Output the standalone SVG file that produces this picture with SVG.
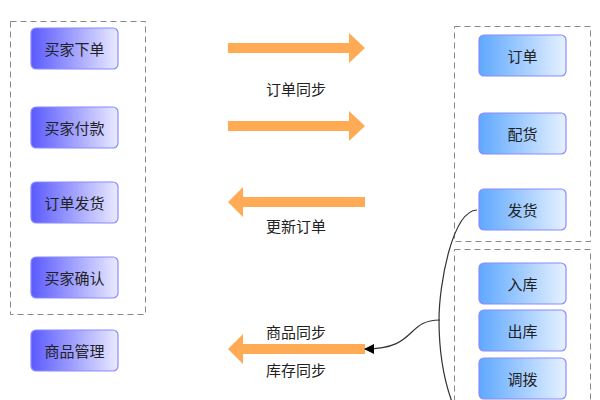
<svg xmlns="http://www.w3.org/2000/svg" width="600" height="400" viewBox="0 0 600 400">
<style>
.grp{fill:none;stroke:#888;stroke-width:1;stroke-dasharray:6,4}
.ln{fill:url(#gl);stroke:#8a8aff;stroke-width:1.2}
.rn{fill:url(#gr);stroke:#8a8aff;stroke-width:1.2}
.t{font-family:"Noto Sans CJK SC","Noto Sans",sans-serif;font-size:15px;fill:#222;text-anchor:middle;dominant-baseline:central}
.ar{fill:#ffaa55}
.cn{fill:none;stroke:#333;stroke-width:1.2}
</style>
<defs>
<linearGradient id="gl" x1="0" y1="0" x2="1" y2="0"><stop offset="0" stop-color="#5a5aff"/><stop offset="1" stop-color="#eaeaff"/></linearGradient>
<linearGradient id="gr" x1="0" y1="0" x2="1" y2="0"><stop offset="0" stop-color="#5fa8ff"/><stop offset="1" stop-color="#e6f1ff"/></linearGradient>
<marker id="ah" markerWidth="10" markerHeight="10" refX="9" refY="5" orient="auto" markerUnits="userSpaceOnUse"><path d="M0,0 L10,5 L0,10 Z" fill="#000"/></marker>
</defs>
<rect class="grp" x="10.5" y="21.5" width="135" height="293"/>
<rect class="grp" x="454.5" y="26.5" width="136" height="215"/>
<rect class="grp" x="454.5" y="249.5" width="136" height="170"/>
<g id="buyer-order"><rect class="ln" x="31" y="28" width="87" height="41" rx="5"/><text class="t" x="74.5" y="48.5">买家下单</text></g>
<g id="buyer-pay"><rect class="ln" x="31" y="107" width="87" height="41" rx="5"/><text class="t" x="74.5" y="127.5">买家付款</text></g>
<g id="order-ship"><rect class="ln" x="31" y="182" width="87" height="41" rx="5"/><text class="t" x="74.5" y="202.5">订单发货</text></g>
<g id="buyer-confirm"><rect class="ln" x="31" y="257" width="87" height="41" rx="5"/><text class="t" x="74.5" y="277.5">买家确认</text></g>
<g id="goods-mgmt"><rect class="ln" x="31" y="330" width="87" height="41" rx="5"/><text class="t" x="74.5" y="350.5">商品管理</text></g>
<g id="order"><rect class="rn" x="479" y="35" width="87" height="41" rx="5"/><text class="t" x="522.5" y="55.5">订单</text></g>
<g id="pick"><rect class="rn" x="479" y="113" width="87" height="41" rx="5"/><text class="t" x="522.5" y="133.5">配货</text></g>
<g id="ship"><rect class="rn" x="479" y="189" width="87" height="41" rx="5"/><text class="t" x="522.5" y="209.5">发货</text></g>
<g id="stock-in"><rect class="rn" x="479" y="263" width="87" height="41" rx="5"/><text class="t" x="522.5" y="283.5">入库</text></g>
<g id="stock-out"><rect class="rn" x="479" y="310" width="87" height="41" rx="5"/><text class="t" x="522.5" y="330.5">出库</text></g>
<g id="transfer"><rect class="rn" x="479" y="358" width="87" height="41" rx="5"/><text class="t" x="522.5" y="378.5">调拨</text></g>
<g id="connectors">
<path class="ar" d="M228,43 H349 V33 L365,48 L349,63 V53 H228 Z"/>
<path class="ar" d="M228,121 H349 V111 L365,126 L349,141 V131 H228 Z"/>
<path class="ar" d="M365,197 H243 V187 L228,202 L243,217 V207 H365 Z"/>
<path class="ar" d="M365,344 H243 V334 L228,349 L243,364 V354 H365 Z"/>
<path class="cn" d="M477,210 C452,211 439,285 439,320 C439,355 444,380 452,402"/>
<path class="cn" d="M440,320 C405,320 418,349 365,349" marker-end="url(#ah)"/>
<text class="t" x="296" y="88">订单同步</text>
<text class="t" x="296" y="225">更新订单</text>
<text class="t" x="296" y="331">商品同步</text>
<text class="t" x="296" y="369">库存同步</text>
</g>
</svg>
